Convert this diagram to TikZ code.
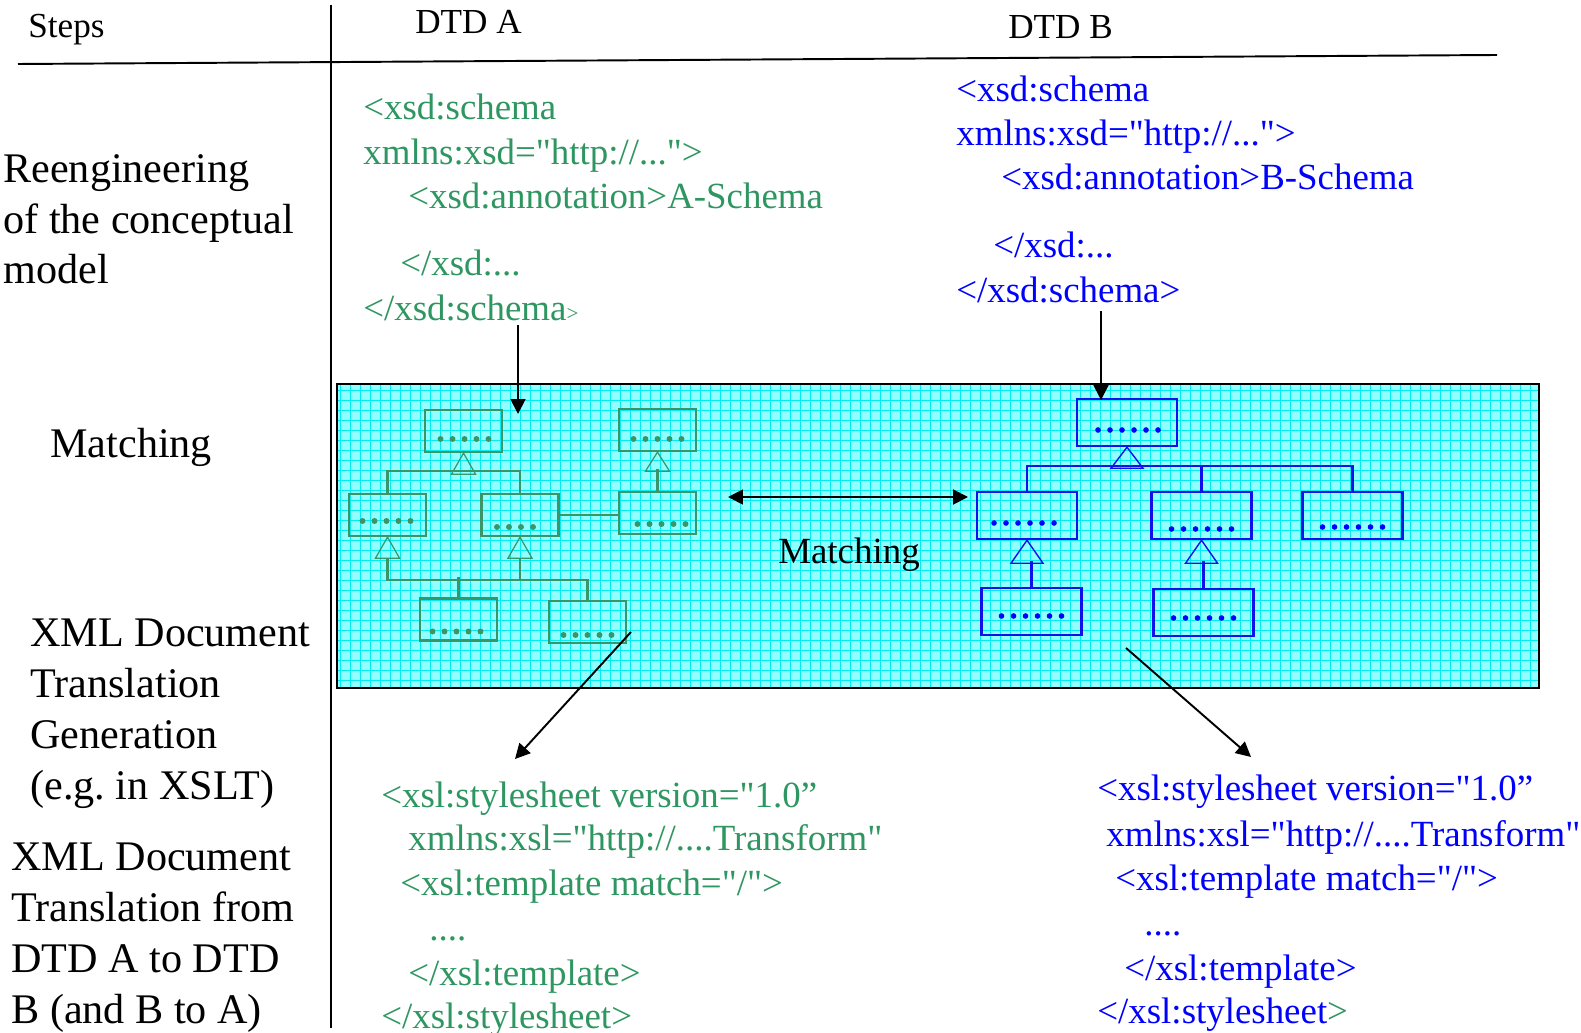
\documentclass[tikz,border=0pt]{standalone}
\usepackage{fontspec}
\setmainfont{Liberation Serif}[Ligatures=TeXOff]
\usetikzlibrary{arrows.meta,calc}

\definecolor{codegreen}{RGB}{46,150,96}
\definecolor{boxgreen}{RGB}{58,150,104}
\definecolor{codeblue}{RGB}{0,0,255}
\definecolor{boxblue}{RGB}{16,16,235}
\definecolor{gridbg}{RGB}{145,255,255}
\definecolor{gridline}{RGB}{0,238,242}

\frenchspacing

\begin{document}
\begin{tikzpicture}[x=0.02cm, y=-0.02cm,
  lbl/.style={inner sep=0, font=\fontsize{24}{28.9}\selectfont, align=left, anchor=north west},
  head/.style={inner sep=0, font=\fontsize{20}{24}\selectfont, anchor=base west},
  codeA/.style={inner sep=0, font=\fontsize{21}{25}\selectfont, anchor=base west, text=codegreen},
  codeB/.style={codeA, text=codeblue},
  clsA/.style={draw=boxgreen, line width=1.3pt, minimum width=1.54cm, minimum height=0.84cm, inner sep=0},
  clsB/.style={draw=boxblue, line width=1.4pt, minimum width=2cm, minimum height=0.94cm, inner sep=0},
  isaA/.style={draw=boxgreen, line width=0.7pt},
  isaB/.style={draw=boxblue, line width=0.8pt},
  linkA/.style={draw=boxgreen, line width=1.3pt},
  linkB/.style={draw=boxblue, line width=1.4pt},
  flow/.style={-{Triangle[length=8.5pt,width=8.5pt]}, line width=1.1pt},
  flow2/.style={{Triangle[length=8.5pt,width=8.5pt]}-{Triangle[length=8.5pt,width=8.5pt]}, line width=1.1pt}]

\useasboundingbox (0,0) rectangle (1581,1033);

% table lines
\draw[line width=1.1pt] (18,64) -- (1497,55);
\draw[line width=1.1pt] (331,5) -- (331,1028);

% headings
\node[head] (steps) at (28,38) {Steps};
\node[head] (dtdA) at (415,34) {DTD A};
\node[head] (dtdB) at (1008,39) {DTD B};

% step labels
\node[lbl] (reeng) at (3,154) {Reengineering\\of the conceptual\\model};
\node[lbl, anchor=base west] (match) at (50,458) {Matching};
\node[lbl] (gen) at (30,619) {XML Document\\Translation\\Generation\\(e.g. in XSLT)};
\node[lbl] (transl) at (11,843) {XML Document\\Translation from\\DTD A to DTD\\B (and B to A)};

% schema A
\node[codeA] (xsdA1) at (363,120) {<xsd:schema};
\node[codeA] (xsdA2) at (363,165) {xmlns:xsd="http://...">};
\node[codeA] (xsdA3) at (408,209) {<xsd:annotation>A-Schema};
\node[codeA] (xsdA4) at (400,276) {</xsd:...};
\node[codeA] (xsdA5) at (363,321) {</xsd:schema{\fontsize{12}{14}\selectfont >}};

% schema B
\node[codeB] (xsdB1) at (956,102) {<xsd:schema};
\node[codeB] (xsdB2) at (956,146) {xmlns:xsd="http://...">};
\node[codeB] (xsdB3) at (1001,190) {<xsd:annotation>B-Schema};
\node[codeB] (xsdB4) at (993,258) {</xsd:...};
\node[codeB] (xsdB5) at (956,303) {</xsd:schema>};

% matching area
\fill[gridbg] (337,384) rectangle (1539,688);
\foreach \gx in {340,350,...,1530}
  \draw[gridline, line width=0.35pt] (\gx,384) -- (\gx,688);
\foreach \gy in {390,400,...,680}
  \draw[gridline, line width=0.35pt] (337,\gy) -- (1539,\gy);
\draw[line width=1.2pt] (337,384) rectangle (1539,688);

% classes of A
\begin{scope}[every node/.style={clsA}]
  \node (a1) at (463.5,431) {};
  \node (a2) at (657.5,430) {};
  \node (a3) at (387.5,515) {};
  \node (a4) at (520,515) {};
  \node (a5) at (657.5,513) {};
  \node (a6) at (458.5,619.5) {};
  \node (a7) at (587.5,622) {};
\end{scope}
\foreach \n/\k/\dx/\dy in {a1/5/1/8, a2/5/0/9, a3/5/-1/6, a4/4/-5/12, a5/5/4/11, a6/5/-2/12, a7/5/0/13}
  \foreach \j in {1,...,\k}
    \fill[boxgreen] ($(\n)+({(\j-(\k+1)/2)*12+\dx},\dy)$) circle (1.7pt);

\draw[isaA] (a1.south) -- ++(-12,21) -- ++(24,0) -- cycle;
\draw[isaA] (a2.south) -- ++(-12,19) -- ++(24,0) -- cycle;
\draw[isaA] (a3.south) -- ++(-12,21) -- ++(24,0) -- cycle;
\draw[isaA] (a4.south) -- ++(-12,21) -- ++(24,0) -- cycle;
\draw[linkA] (a3.north) -- ++(0,-22) -| (a4.north);
\draw[linkA] (a5.north) -- ++(0,-22);
\draw[linkA] (a4.east) -- (a4.east -| a5.west);
\draw[linkA] ($(a3.south)+(0,21)$) -- ++(0,22) -| (a7.north);
\draw[linkA] ($(a4.south)+(0,21)$) -- ++(0,22);
\draw[linkA] (a6.north) -- ++(0,-20);

% classes of B
\begin{scope}[every node/.style={clsB}]
  \node (b1) at (1127,422.5) {};
  \node (b2) at (1027,515.5) {};
  \node (b3) at (1201.5,515.5) {};
  \node (b4) at (1352.5,515.5) {};
  \node (b5) at (1031.5,611.5) {};
  \node (b6) at (1203.5,612.5) {};
\end{scope}
\foreach \n/\k/\dx/\dy in {b1/6/1/7.5, b2/6/-3/7.5, b3/6/0/13.5, b4/6/0/11.5, b5/6/0/4.5, b6/6/0/5.5}
  \foreach \j in {1,...,\k}
    \fill[codeblue] ($(\n)+({(\j-(\k+1)/2)*12+\dx},\dy)$) circle (1.6pt);

\draw[isaB] (b1.south) -- ++(-16,21) -- ++(32,0) -- cycle;
\draw[isaB] (b2.south) -- ++(-16,23) -- ++(32,0) -- cycle;
\draw[isaB] (b3.south) -- ++(-16,23) -- ++(32,0) -- cycle;
\draw[linkB] (b2.north) -- ++(0,-25) -| (b4.north);
\draw[linkB] (b3.north) -- ++(0,-25);
\draw[linkB] (b5.north) -- ++(0,-26);
\draw[linkB] (b6.north) -- ++(0,-27);

% matching
\node[inner sep=0, font=\fontsize{21}{25}\selectfont, anchor=base] (matchmid) at (849,563) {Matching};
\coordinate (mL) at (728,497);
\coordinate (mR) at (968,497);
\draw[flow2] (mL) -- (mR);

% arrows between the steps
\coordinate (pA) at (518,325);
\coordinate (qA) at (518,414);
\coordinate (pB) at (1101,311);
\coordinate (qB) at (1101,400);
\coordinate (rA) at (631,632);
\coordinate (sA) at (515,759);
\coordinate (rB) at (1126,648);
\coordinate (sB) at (1251,757);
\draw[flow] (pA) -- (qA);
\draw[flow] (pB) -- (qB);
\draw[flow] (rA) -- (sA);
\draw[flow] (rB) -- (sB);

% stylesheet A
\node[codeA] (xslA1) at (381,807) {<xsl:stylesheet version="1.0”};
\node[codeA] (xslA2) at (408,850) {xmlns:xsl="http://....Transform"};
\node[codeA] (xslA3) at (400,895) {<xsl:template match="/">};
\node[codeA] (xslA4) at (429,940) {....};
\node[codeA] (xslA5) at (408,985) {</xsl:template>};
\node[codeA] (xslA6) at (381,1028) {</xsl:stylesheet>};

% stylesheet B
\node[codeB] (xslB1) at (1097,800) {<xsl:stylesheet version="1.0”};
\node[codeB] (xslB2) at (1106,846) {xmlns:xsl="http://....Transform"};
\node[codeB] (xslB3) at (1115,890) {<xsl:template match="/">};
\node[codeB] (xslB4) at (1144,935) {....};
\node[codeB] (xslB5) at (1124,980) {</xsl:template>};
\node[codeB] (xslB6) at (1097,1023) {</xsl:stylesheet\textcolor{codegreen}{>}};

\end{tikzpicture}
\end{document}
